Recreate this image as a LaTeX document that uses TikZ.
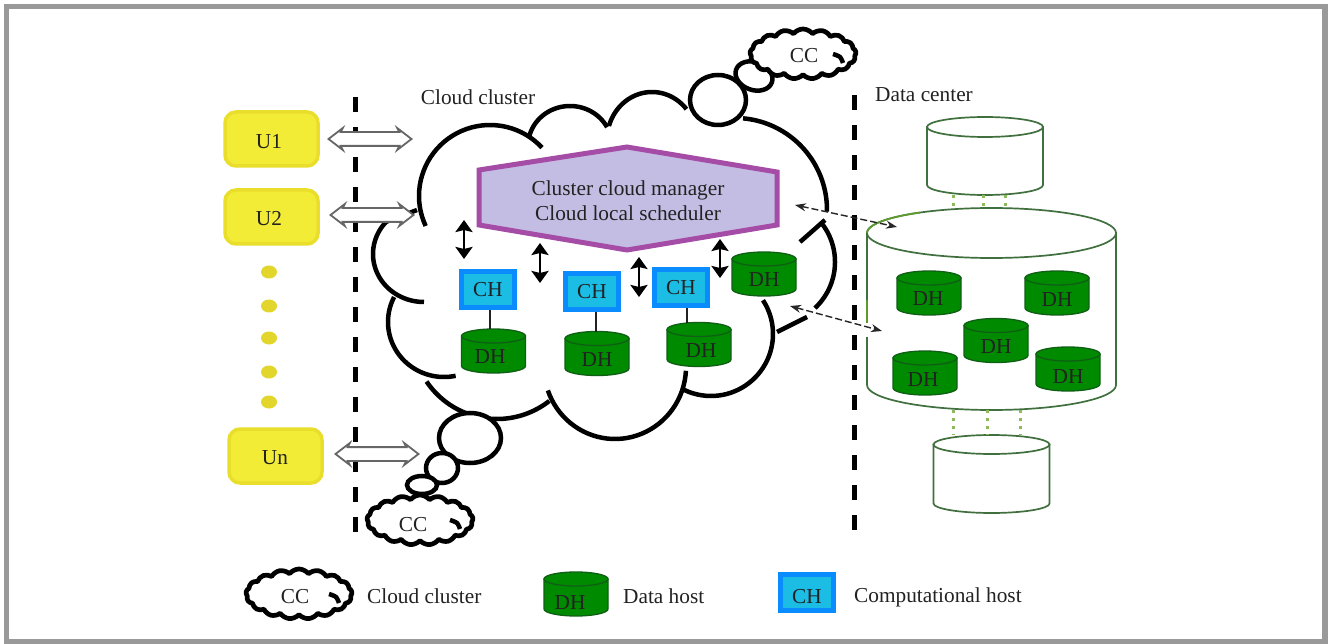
\documentclass[tikz,border=0pt]{standalone}
\usepackage{fontspec}
\setmainfont{Liberation Serif}
\usetikzlibrary{arrows.meta,shapes.arrows,shapes.symbols,calc}
\definecolor{frameg}{HTML}{999999}
\definecolor{dhfill}{HTML}{008A00}
\definecolor{dhline}{HTML}{0F5F14}
\definecolor{chblue}{HTML}{0A8CFF}
\definecolor{chfill}{HTML}{1BBDE4}
\definecolor{uyellow}{HTML}{F2EC36}
\definecolor{uedge}{HTML}{E9DE2C}
\definecolor{udot}{HTML}{E2D62C}
\definecolor{hexline}{HTML}{A54CA6}
\definecolor{hexfill}{HTML}{C3BCE3}
\definecolor{dcline}{HTML}{41703F}
\definecolor{dcbright}{HTML}{5C9A2C}
\definecolor{dcdot}{HTML}{8DBB5C}
\definecolor{txt}{HTML}{222222}
\tikzset{
  lbl/.style={font=\fontsize{21.3}{25}\selectfont,text=txt,inner sep=0pt},
  userbox/.style={draw=uedge,fill=uyellow,line width=3.5pt,rounded corners=11pt,minimum width=93pt,minimum height=54pt,inner sep=0pt},
  userdot/.style={fill=udot,draw=none},
  chbox/.style={draw=chblue,fill=chfill,line width=5pt,minimum width=53pt,minimum height=36pt,inner sep=0pt,font=\fontsize{21.3}{25}\selectfont,text=txt},
  link/.style={draw=txt,line width=1.3pt},
  cloudline/.style={draw=black,line width=4.5pt,line join=round},
  bubble/.style={draw=black,fill=white,line width=4.5pt},
  cccloud/.style={cloud,cloud puffs=17,cloud puff arc=105,aspect=2.1,draw=black,fill=white,line width=4.7pt,line join=round,minimum width=106pt,minimum height=50pt,inner sep=0pt},
  fence/.style={draw=black,line width=5pt,dash pattern=on 15pt off 15pt},
  hollowarrow/.style={double arrow,draw=gray!80!black,fill=white,line width=1.8pt,minimum width=20pt,minimum height=83pt,inner xsep=0pt,inner ysep=6pt,double arrow head extend=4pt,double arrow tip angle=75,double arrow head indent=2pt},
  blackarrow/.style={draw=black,line width=2.5pt,{Stealth[length=12pt,width=17pt,inset=2pt]}-{Stealth[length=12pt,width=17pt,inset=2pt]}},
  dasharrow/.style={draw=black!85,line width=1.4pt,dash pattern=on 7pt off 3pt,{Stealth[length=11pt,width=8pt]}-{Stealth[length=11pt,width=8pt]}},
  dcdots/.style={draw=dcdot,line width=3pt,dash pattern=on 3pt off 5pt},
  dhbody/.style={draw=dhline,fill=dhfill,line width=1.3pt},
  dcbody/.style={draw=dcline,fill=white,line width=1.7pt},
  ghost/.style={inner sep=0pt,outer sep=0pt,draw=none}
}
\newcommand{\cylshape}[7]{%
  \path[#2] (#3-#5,#4+#7) -- (#3-#5,#4+#6-#7)
    .. controls (#3-#5,#4+#6-0.45*#7) and (#3-0.55*#5,#4+#6) .. (#3,#4+#6)
    .. controls (#3+0.55*#5,#4+#6) and (#3+#5,#4+#6-0.45*#7) .. (#3+#5,#4+#6-#7)
    -- (#3+#5,#4+#7) -- cycle;
  \path[#2] (#3,#4+#7) ellipse [x radius=#5,y radius=#7];
  \node[ghost,minimum width=2*#5 pt,minimum height=#6 pt] (#1) at (#3,#4+#6/2) {};
}
\newcommand{\dhost}[5]{%
  \cylshape{#1}{dhbody}{#2}{#3}{32}{44}{7}
  \node[lbl] (#1t) at (#4,#5) {DH};
}
\newcommand{\ccloud}[5]{%
  \node[cccloud] (#1) at (#2,#3) {};
  \draw[cloudline] plot[smooth] coordinates {(#2+30,#3+0)(#2+37,#3+3)(#2+40,#3+9)};
  \node[lbl] (#1t) at (#4,#5) {CC};
}
% arc of the big cloud: centre x, centre y, rx, ry, from angle, to angle (angles clockwise on the page)
\newcommand{\cloudarc}[6]{%
  \draw[cloudline] plot[domain=#5:#6,samples=40,variable=\tv] ({#1+#3*cos(\tv)},{#2+#4*sin(\tv)});
}
\begin{document}
\begin{tikzpicture}[x=1pt,y=-1pt]
\useasboundingbox (0,0) rectangle (1333,644);
\fill[white] (0,0) rectangle (1333,644);
\draw[frameg,line width=5.5pt] (6.5,6.5) rectangle (1325,641.5);

% users
\node[userbox] (u1) at (271.5,139) {};
\node[userbox] (u2) at (271.5,217) {};
\node[userbox] (un) at (275.5,456) {};
\node[lbl] at (269,142) {U1};
\node[lbl] at (269,219) {U2};
\node[lbl] at (275,458) {Un};
\foreach \yy/\nm in {272/a,306/b,338/c,372/d,402/e}
  \path[userdot] (269,\yy) ellipse [x radius=8,y radius=6.5];

% fences
\coordinate (fl1) at (355.5,97); \coordinate (fl2) at (355.5,535);
\coordinate (fr1) at (854,95); \coordinate (fr2) at (854,533);
\draw[fence] (fl1) -- (fl2);
\draw[fence] (fr1) -- (fr2);

% big cloud arcs
\cloudarc{490}{196}{71}{71}{155}{317}
\cloudarc{570}{146}{42}{40}{195}{332}
\cloudarc{652}{140}{45}{48}{197}{320}
\cloudarc{735}{210}{92}{92}{275}{361}
\cloudarc{772}{262}{63}{63}{-40}{47}
\draw[cloudline] (800,242) -- (825,220);
\cloudarc{711}{334}{62}{62}{-33}{118}
\draw[cloudline] (777,332) -- (807,317);
\cloudarc{615}{367}{71}{72}{3}{161}
\cloudarc{497}{334}{85}{85}{52}{146}
\cloudarc{444}{322}{56}{55}{78}{207}
\draw[cloudline] plot[domain=90:222,samples=40,variable=\tv] ({424+51*cos(\tv)},{254+48*sin(\tv)}) -- (417,210);

% bubbles and small clouds
\path[bubble] (718,100) ellipse [x radius=28,y radius=25];
\path[bubble,rotate around={-20:(754,76)}] (754,76) ellipse [x radius=19,y radius=14];
\ccloud{cctop}{803}{54}{804}{56}
\path[bubble] (470,438) ellipse [x radius=31,y radius=25];
\path[bubble] (442,468) ellipse [x radius=16,y radius=15];
\path[bubble] (422,485) ellipse [x radius=15,y radius=9];
\ccloud{ccbot}{420}{520}{413}{525}

% labels
\node[lbl] (lcc) at (478,97) {Cloud cluster};
\node[lbl] (ldc) at (924,95) {Data center};

% hollow arrows
\node[hollowarrow] (ar1) at (370,139) {};
\node[hollowarrow] (ar2) at (372,215) {};
\node[hollowarrow] (ar3) at (377,454) {};

% manager
\path[draw=hexline,fill=hexfill,line width=5pt] (479,170) -- (627,147) -- (777,172) -- (777,225) -- (627,250) -- (479,225) -- cycle;
\node[lbl,align=center] (mgr) at (628,200.5) {Cluster cloud manager\\[0.3pt]Cloud local scheduler};

% compute hosts + data hosts
\node[chbox] (ch1) at (488,289.5) {CH};
\node[chbox] (ch2) at (592,291.5) {CH};
\node[chbox] (ch3) at (681,288) {CH};
\dhost{dh1}{493.5}{329}{490}{357}
\dhost{dh2}{597}{331.5}{597}{360}
\dhost{dh3}{699}{322.5}{701}{351}
\dhost{dh4}{764}{252}{764}{280}
\draw[link] ([xshift=2pt]ch1.south) -- ([xshift=2pt]ch1.south |- dh1.north);
\draw[link] ([xshift=4pt]ch2.south) -- ([xshift=4pt]ch2.south |- dh2.north);
\draw[link] ([xshift=6pt]ch3.south) -- ([xshift=6pt]ch3.south |- dh3.north);

% vertical arrows
\coordinate (v1a) at (464,220); \coordinate (v1b) at (464,259);
\coordinate (v2a) at (540,243); \coordinate (v2b) at (540,283);
\coordinate (v3a) at (639,257); \coordinate (v3b) at (639,297);
\coordinate (v4a) at (720,239); \coordinate (v4b) at (720,278);
\draw[blackarrow] (v1a) -- (v1b);
\draw[blackarrow] (v2a) -- (v2b);
\draw[blackarrow] (v3a) -- (v3b);
\draw[blackarrow] (v4a) -- (v4b);

% data center
\cylshape{dctop}{dcbody}{985}{117}{58}{78}{10}
\cylshape{dcbot}{dcbody}{991.5}{435}{58}{78}{9.5}
\cylshape{dcmain}{dcbody}{991.5}{208}{124.5}{202}{25}
\foreach \dx in {-32,-2,20}
  \draw[dcdots] ([xshift=\dx pt]dctop.south) -- ([xshift=\dx pt]dctop.south |- dcmain.north);
\foreach \dx in {-38.5,-4.5,28.5}
  \draw[dcdots] ([xshift=\dx pt]dcmain.south) -- ([xshift=\dx pt]dcmain.south |- dcbot.north);
\draw[dcbright,line width=1.7pt] plot[domain=180:235,samples=20,variable=\tv] ({991.5+124.5*cos(\tv)},{233+25*sin(\tv)});
\draw[dcbright,line width=1.7pt] (867,300) -- (867,323);
\draw[white,line width=3pt] (867,323) -- (867,337);
\dhost{dh5}{929}{271}{928}{299}
\dhost{dh6}{1057}{271}{1057}{300}
\dhost{dh7}{996}{318.5}{996}{347}
\dhost{dh8}{925}{351}{923}{380}
\dhost{dh9}{1068}{347}{1068}{377}

% dashed arrows
\coordinate (d1a) at (795,205); \coordinate (d1b) at (897,227);
\coordinate (d2a) at (790,306); \coordinate (d2b) at (882,331);
\draw[dasharrow] (d1a) -- (d1b);
\draw[dasharrow] (d2a) -- (d2b);

% legend
\ccloud{cclegend}{299}{594}{295}{597}
\node[lbl,anchor=west] (l1) at (367,596) {Cloud cluster};
\dhost{dhlegend}{576}{572}{570}{603}
\node[lbl,anchor=west] (l2) at (623,596) {Data host};
\node[chbox] (chlegend) at (807,592.5) {};
\node[lbl] (chlegendt) at (807,597) {CH};
\node[lbl,anchor=west] (l3) at (854,597.5) {Computational host};
\end{tikzpicture}
\end{document}
